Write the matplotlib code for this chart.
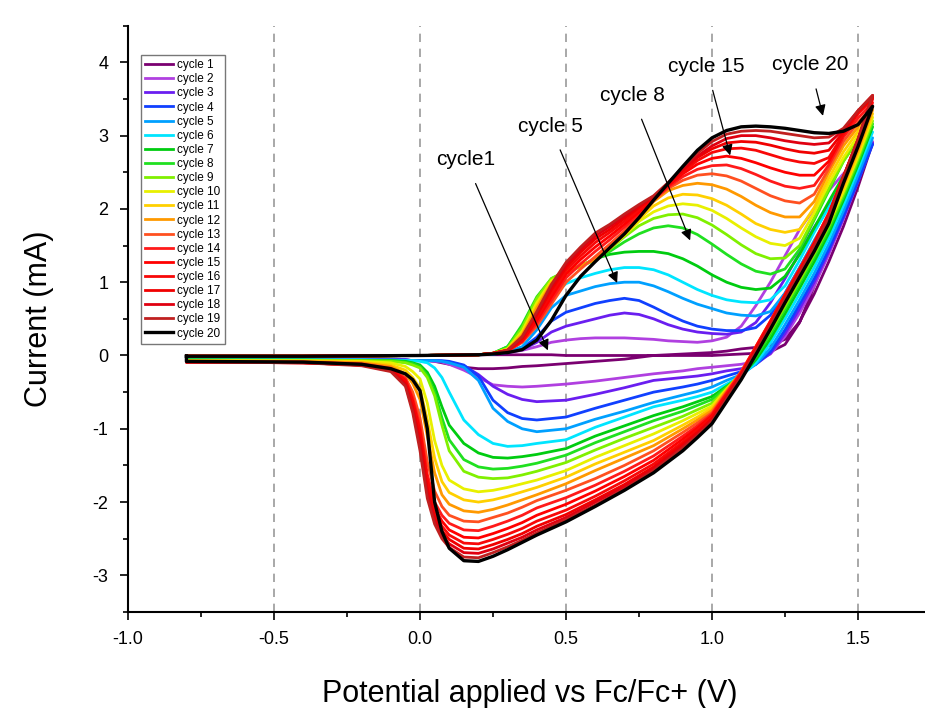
import matplotlib
matplotlib.use("Agg")
import matplotlib.pyplot as plt
from matplotlib.ticker import MultipleLocator

plt.rcParams['font.family'] = ['Liberation Sans', 'DejaVu Sans']

# potential grids (V vs Fc/Fc+), anodic sweep then cathodic sweep
fwd_v = [-0.8, -0.4, 0.0, 0.2, 0.25, 0.3, 0.35, 0.4, 0.45, 0.5, 0.55, 0.6, 0.65, 0.7, 0.75,
         0.8, 0.85, 0.9, 0.95, 1.0, 1.05, 1.1, 1.15, 1.2, 1.25, 1.3, 1.35, 1.4, 1.45, 1.5, 1.55]
rev_v = [1.55, 1.5, 1.45, 1.4, 1.35, 1.3, 1.25, 1.2, 1.15, 1.1, 1.05, 1.0, 0.95, 0.9, 0.8, 0.7,
         0.6, 0.5, 0.4, 0.35, 0.3, 0.25, 0.2, 0.15, 0.1, 0.075, 0.05, 0.025, 0.0, -0.025, -0.05,
         -0.1, -0.2, -0.4, -0.8]

# current (mA), one row per cycle
fwd_i = [
    [-0.01, -0.01, 0.0, 0.01, 0.01, 0.01, 0.01, 0.01, 0.01, 0.0, 0.0, 0.0, 0.0, 0.0, 0.0, 0.0, 0.0, 0.0, 0.0, 0.0, 0.01, 0.02, 0.03, 0.05, 0.15, 0.45, 0.95, 1.45, 1.95, 2.42, 2.9],
    [-0.01, -0.01, 0.0, 0.01, 0.02, 0.04, 0.07, 0.12, 0.18, 0.21, 0.23, 0.24, 0.24, 0.24, 0.23, 0.22, 0.2, 0.19, 0.18, 0.2, 0.25, 0.4, 0.68, 1.0, 1.36, 1.72, 2.0, 2.25, 2.48, 2.7, 2.92],
    [-0.01, -0.01, 0.0, 0.01, 0.02, 0.04, 0.08, 0.18, 0.32, 0.4, 0.45, 0.5, 0.55, 0.58, 0.56, 0.5, 0.42, 0.36, 0.32, 0.3, 0.29, 0.32, 0.45, 0.72, 1.05, 1.4, 1.75, 2.05, 2.35, 2.62, 2.9],
    [-0.01, -0.01, 0.0, 0.01, 0.02, 0.04, 0.1, 0.25, 0.47, 0.59, 0.65, 0.71, 0.75, 0.78, 0.75, 0.66, 0.56, 0.47, 0.4, 0.36, 0.34, 0.34, 0.38, 0.55, 0.85, 1.2, 1.55, 1.9, 2.25, 2.57, 2.88],
    [-0.01, -0.01, 0.0, 0.01, 0.02, 0.05, 0.12, 0.35, 0.65, 0.82, 0.88, 0.94, 0.98, 1.0, 1.0, 0.95, 0.87, 0.78, 0.7, 0.64, 0.58, 0.55, 0.54, 0.6, 0.85, 1.2, 1.57, 1.92, 2.27, 2.62, 2.97],
    [-0.01, -0.01, 0.0, 0.01, 0.02, 0.06, 0.18, 0.45, 0.8, 0.98, 1.06, 1.12, 1.17, 1.2, 1.2, 1.17, 1.1, 1.0, 0.9, 0.82, 0.76, 0.73, 0.72, 0.76, 0.95, 1.3, 1.68, 2.02, 2.37, 2.72, 3.05],
    [-0.01, -0.01, 0.0, 0.01, 0.03, 0.12, 0.4, 0.75, 1.0, 1.12, 1.22, 1.32, 1.38, 1.41, 1.42, 1.42, 1.39, 1.32, 1.22, 1.1, 1.0, 0.93, 0.9, 0.92, 1.08, 1.38, 1.74, 2.1, 2.45, 2.8, 3.12],
    [-0.01, -0.01, 0.0, 0.01, 0.03, 0.12, 0.42, 0.8, 1.05, 1.15, 1.22, 1.3, 1.42, 1.55, 1.66, 1.74, 1.77, 1.74, 1.65, 1.52, 1.38, 1.25, 1.15, 1.11, 1.18, 1.45, 1.85, 2.25, 2.65, 2.95, 3.16],
    [-0.01, -0.01, 0.0, 0.01, 0.03, 0.1, 0.38, 0.78, 1.05, 1.15, 1.23, 1.31, 1.45, 1.62, 1.77, 1.87, 1.92, 1.93, 1.88, 1.78, 1.65, 1.51, 1.39, 1.32, 1.33, 1.5, 1.88, 2.28, 2.65, 2.95, 3.2],
    [-0.01, -0.01, 0.0, 0.01, 0.03, 0.09, 0.33, 0.72, 1.02, 1.14, 1.22, 1.31, 1.46, 1.64, 1.83, 1.96, 2.04, 2.07, 2.05, 1.98, 1.87, 1.74, 1.62, 1.53, 1.5, 1.6, 1.95, 2.35, 2.7, 3.0, 3.25],
    [-0.01, -0.01, 0.0, 0.01, 0.03, 0.08, 0.3, 0.68, 1.0, 1.13, 1.22, 1.31, 1.47, 1.65, 1.86, 2.04, 2.15, 2.2, 2.19, 2.14, 2.05, 1.93, 1.8, 1.72, 1.68, 1.72, 2.02, 2.42, 2.78, 3.06, 3.3],
    [-0.01, -0.01, 0.0, 0.01, 0.03, 0.08, 0.28, 0.65, 0.98, 1.12, 1.22, 1.31, 1.47, 1.65, 1.88, 2.1, 2.25, 2.32, 2.35, 2.33, 2.27, 2.17, 2.05, 1.95, 1.89, 1.89, 2.1, 2.5, 2.86, 3.12, 3.35],
    [-0.01, -0.01, 0.0, 0.01, 0.03, 0.06, 0.18, 0.4, 0.7, 1.0, 1.18, 1.35, 1.52, 1.7, 1.9, 2.12, 2.28, 2.39, 2.46, 2.48, 2.45, 2.38, 2.28, 2.18, 2.11, 2.08, 2.2, 2.55, 2.92, 3.18, 3.4],
    [-0.01, -0.01, 0.0, 0.01, 0.03, 0.06, 0.19, 0.44, 0.75, 1.06, 1.25, 1.42, 1.58, 1.75, 1.93, 2.13, 2.3, 2.44, 2.54, 2.59, 2.6, 2.55, 2.47, 2.38, 2.31, 2.28, 2.32, 2.6, 2.98, 3.24, 3.45],
    [-0.01, -0.01, 0.0, 0.01, 0.03, 0.07, 0.2, 0.48, 0.8, 1.11, 1.31, 1.48, 1.63, 1.79, 1.96, 2.14, 2.32, 2.48, 2.61, 2.69, 2.72, 2.69, 2.63, 2.56, 2.5, 2.46, 2.46, 2.65, 3.02, 3.3, 3.5],
    [-0.01, -0.01, 0.0, 0.01, 0.03, 0.07, 0.22, 0.52, 0.85, 1.16, 1.36, 1.54, 1.68, 1.83, 1.99, 2.15, 2.33, 2.5, 2.66, 2.77, 2.82, 2.83, 2.8, 2.74, 2.68, 2.64, 2.62, 2.7, 3.02, 3.32, 3.52],
    [-0.01, -0.01, 0.0, 0.01, 0.03, 0.07, 0.23, 0.55, 0.9, 1.2, 1.41, 1.59, 1.72, 1.87, 2.02, 2.16, 2.34, 2.53, 2.7, 2.82, 2.9, 2.92, 2.91, 2.87, 2.82, 2.78, 2.76, 2.8, 3.05, 3.33, 3.53],
    [-0.01, -0.01, 0.0, 0.01, 0.03, 0.07, 0.25, 0.58, 0.94, 1.24, 1.45, 1.63, 1.76, 1.9, 2.04, 2.17, 2.35, 2.55, 2.72, 2.86, 2.96, 3.0, 3.0, 2.97, 2.93, 2.9, 2.88, 2.9, 3.08, 3.34, 3.55],
    [-0.01, -0.01, 0.0, 0.01, 0.03, 0.07, 0.26, 0.6, 0.97, 1.27, 1.48, 1.67, 1.79, 1.93, 2.06, 2.18, 2.36, 2.57, 2.76, 2.92, 3.02, 3.06, 3.07, 3.06, 3.03, 3.0, 2.97, 2.98, 3.1, 3.34, 3.55],
    [-0.01, -0.01, 0.0, 0.01, 0.02, 0.04, 0.08, 0.21, 0.48, 0.82, 1.08, 1.28, 1.47, 1.66, 1.88, 2.12, 2.35, 2.58, 2.8, 2.97, 3.07, 3.12, 3.13, 3.12, 3.1, 3.07, 3.04, 3.03, 3.06, 3.15, 3.4],
]

rev_i = [
    [2.9, 2.3, 1.76, 1.28, 0.84, 0.46, 0.22, 0.14, 0.11, 0.09, 0.06, 0.04, 0.03, 0.02, 0.0, -0.05, -0.08, -0.11, -0.14, -0.15, -0.17, -0.18, -0.18, -0.16, -0.12, -0.1, -0.08, -0.07, -0.07, -0.07, -0.06, -0.06, -0.06, -0.06, -0.06],
    [2.92, 2.38, 1.86, 1.38, 0.95, 0.58, 0.26, 0.02, -0.08, -0.12, -0.14, -0.16, -0.18, -0.21, -0.25, -0.3, -0.35, -0.39, -0.42, -0.43, -0.42, -0.4, -0.3, -0.2, -0.12, -0.09, -0.08, -0.07, -0.07, -0.07, -0.06, -0.06, -0.06, -0.06, -0.06],
    [2.9, 2.38, 1.88, 1.42, 1.0, 0.64, 0.3, 0.03, -0.12, -0.18, -0.21, -0.25, -0.28, -0.3, -0.34, -0.44, -0.53, -0.61, -0.63, -0.6, -0.53, -0.42, -0.26, -0.14, -0.09, -0.08, -0.07, -0.07, -0.07, -0.07, -0.06, -0.06, -0.06, -0.06, -0.06],
    [2.88, 2.38, 1.9, 1.45, 1.05, 0.7, 0.35, 0.05, -0.12, -0.22, -0.28, -0.34, -0.39, -0.43, -0.5, -0.61, -0.72, -0.84, -0.88, -0.86, -0.78, -0.61, -0.28, -0.13, -0.08, -0.07, -0.07, -0.07, -0.07, -0.07, -0.06, -0.06, -0.06, -0.06, -0.06],
    [2.97, 2.46, 1.97, 1.52, 1.12, 0.76, 0.42, 0.1, -0.12, -0.26, -0.34, -0.43, -0.49, -0.54, -0.64, -0.76, -0.87, -1.0, -1.04, -1.0, -0.9, -0.72, -0.34, -0.16, -0.1, -0.08, -0.07, -0.07, -0.07, -0.07, -0.07, -0.06, -0.06, -0.06, -0.06],
    [3.05, 2.54, 2.05, 1.6, 1.2, 0.84, 0.5, 0.17, -0.1, -0.28, -0.39, -0.5, -0.56, -0.61, -0.7, -0.84, -0.98, -1.15, -1.2, -1.23, -1.24, -1.2, -1.08, -0.88, -0.5, -0.3, -0.17, -0.1, -0.08, -0.07, -0.07, -0.07, -0.06, -0.06, -0.06],
    [3.12, 2.6, 2.12, 1.67, 1.28, 0.92, 0.57, 0.23, -0.06, -0.28, -0.42, -0.56, -0.63, -0.7, -0.82, -0.96, -1.1, -1.27, -1.35, -1.38, -1.4, -1.39, -1.33, -1.2, -0.95, -0.7, -0.42, -0.23, -0.13, -0.1, -0.08, -0.07, -0.07, -0.06, -0.06],
    [3.16, 2.64, 2.16, 1.72, 1.34, 0.98, 0.63, 0.29, -0.02, -0.27, -0.43, -0.6, -0.68, -0.76, -0.89, -1.04, -1.19, -1.36, -1.47, -1.51, -1.54, -1.55, -1.52, -1.42, -1.15, -0.85, -0.5, -0.27, -0.15, -0.11, -0.09, -0.07, -0.07, -0.07, -0.06],
    [3.2, 2.68, 2.2, 1.76, 1.38, 1.02, 0.67, 0.33, 0.02, -0.25, -0.45, -0.65, -0.74, -0.83, -0.98, -1.13, -1.29, -1.46, -1.58, -1.63, -1.67, -1.68, -1.66, -1.58, -1.3, -0.95, -0.55, -0.3, -0.17, -0.13, -0.1, -0.08, -0.07, -0.07, -0.07],
    [3.25, 2.72, 2.24, 1.8, 1.42, 1.06, 0.71, 0.37, 0.05, -0.24, -0.46, -0.69, -0.79, -0.89, -1.07, -1.23, -1.39, -1.57, -1.7, -1.75, -1.8, -1.84, -1.86, -1.82, -1.7, -1.5, -1.16, -0.65, -0.32, -0.22, -0.15, -0.1, -0.08, -0.07, -0.07],
    [3.3, 2.76, 2.28, 1.84, 1.46, 1.1, 0.75, 0.4, 0.07, -0.23, -0.47, -0.72, -0.84, -0.95, -1.16, -1.32, -1.48, -1.66, -1.8, -1.86, -1.92, -1.97, -2.0, -1.97, -1.87, -1.72, -1.4, -0.88, -0.45, -0.3, -0.2, -0.13, -0.09, -0.08, -0.07],
    [3.35, 2.8, 2.32, 1.88, 1.5, 1.14, 0.79, 0.43, 0.09, -0.22, -0.48, -0.75, -0.88, -1.0, -1.23, -1.4, -1.57, -1.75, -1.9, -1.97, -2.04, -2.1, -2.14, -2.12, -2.03, -1.9, -1.6, -1.1, -0.6, -0.38, -0.25, -0.15, -0.1, -0.08, -0.08],
    [3.4, 2.86, 2.4, 1.93, 1.54, 1.18, 0.83, 0.47, 0.12, -0.22, -0.5, -0.78, -0.92, -1.05, -1.3, -1.5, -1.68, -1.84, -1.98, -2.07, -2.15, -2.21, -2.27, -2.26, -2.18, -2.06, -1.85, -1.45, -0.85, -0.5, -0.3, -0.17, -0.11, -0.09, -0.08],
    [3.45, 2.9, 2.42, 1.94, 1.54, 1.18, 0.83, 0.47, 0.12, -0.23, -0.51, -0.8, -0.96, -1.1, -1.37, -1.58, -1.77, -1.94, -2.08, -2.18, -2.26, -2.33, -2.39, -2.38, -2.29, -2.18, -2.0, -1.62, -0.97, -0.58, -0.32, -0.18, -0.12, -0.09, -0.09],
    [3.5, 2.93, 2.44, 1.94, 1.54, 1.18, 0.83, 0.46, 0.11, -0.24, -0.53, -0.82, -0.99, -1.14, -1.43, -1.65, -1.85, -2.03, -2.18, -2.28, -2.36, -2.43, -2.49, -2.48, -2.38, -2.26, -2.08, -1.7, -1.03, -0.62, -0.34, -0.19, -0.12, -0.09, -0.09],
    [3.52, 2.94, 2.44, 1.93, 1.53, 1.17, 0.82, 0.45, 0.1, -0.25, -0.54, -0.84, -1.02, -1.18, -1.48, -1.71, -1.92, -2.11, -2.26, -2.36, -2.44, -2.51, -2.57, -2.56, -2.45, -2.33, -2.14, -1.76, -1.1, -0.66, -0.36, -0.2, -0.13, -0.1, -0.09],
    [3.53, 2.95, 2.44, 1.92, 1.52, 1.15, 0.8, 0.44, 0.08, -0.26, -0.56, -0.86, -1.05, -1.21, -1.52, -1.76, -1.97, -2.17, -2.33, -2.43, -2.51, -2.58, -2.64, -2.63, -2.51, -2.39, -2.2, -1.82, -1.15, -0.7, -0.38, -0.2, -0.13, -0.1, -0.09],
    [3.55, 2.95, 2.43, 1.9, 1.5, 1.14, 0.78, 0.42, 0.07, -0.27, -0.57, -0.88, -1.07, -1.24, -1.55, -1.79, -2.0, -2.21, -2.38, -2.48, -2.56, -2.64, -2.7, -2.69, -2.57, -2.45, -2.25, -1.88, -1.22, -0.74, -0.4, -0.21, -0.13, -0.1, -0.09],
    [3.55, 2.95, 2.42, 1.88, 1.48, 1.12, 0.77, 0.4, 0.05, -0.29, -0.59, -0.9, -1.09, -1.26, -1.57, -1.82, -2.04, -2.24, -2.42, -2.52, -2.61, -2.69, -2.76, -2.75, -2.62, -2.5, -2.3, -1.95, -1.3, -0.78, -0.42, -0.22, -0.14, -0.1, -0.09],
    [3.4, 2.85, 2.35, 1.8, 1.42, 1.07, 0.72, 0.36, 0.01, -0.33, -0.63, -0.93, -1.12, -1.3, -1.6, -1.84, -2.06, -2.27, -2.45, -2.55, -2.65, -2.74, -2.81, -2.8, -2.63, -2.4, -2.0, -1.0, -0.48, -0.33, -0.25, -0.18, -0.12, -0.09, -0.08],
]

labels = ['cycle %d' % n for n in range(1, 21)]
colors = ['#7a0070', '#b040e0', '#6a1ef0', '#1040ff', '#00a0ff', '#00e5ff', '#00cc10', '#20e020',
          '#80f000', '#e8f000', '#ffd000', '#ff9900', '#ff5020', '#ff1a1a', '#ff0000', '#f80808',
          '#f00000', '#e00010', '#c02020', '#000000']

# arrow notes: text, text position, arrow tip (data units)
notes = [
    ('cycle1', (0.155, 2.67), (0.438, 0.07)),
    ('cycle 5', (0.445, 3.13), (0.675, 0.99)),
    ('cycle 8', (0.726, 3.55), (0.925, 1.57)),
    ('cycle 15', (0.98, 3.95), (1.062, 2.73)),
    ('cycle 20', (1.335, 3.97), (1.38, 3.27)),
]

fig = plt.figure(figsize=(9.25, 7.08), dpi=100)
ax = fig.add_axes([0.1384, 0.1356, 0.8681, 0.8281])

for x in [-0.5, 0.0, 0.5, 1.0, 1.5]:
    ax.axvline(x, color='#999999', lw=1.2, ls=(0, (5, 4)), zorder=0)

for k in range(20):
    v = fwd_v + rev_v + [fwd_v[0]]
    i = fwd_i[k] + rev_i[k] + [fwd_i[k][0]]
    lw = 2.4 if k == 19 else 2.0
    ax.plot(v, i, color=colors[k], lw=lw, label=labels[k], solid_joinstyle='round')

for txt, xy_text, xy_tip in notes:
    ax.annotate(txt, xy=xy_tip, xytext=xy_text, ha='center', va='center', fontsize=15,
                arrowprops=dict(arrowstyle='-|>', color='black', lw=0.9, mutation_scale=16,
                                shrinkA=9, shrinkB=0))

ax.set_xlim(-1.0, 1.75)
ax.set_ylim(-3.5, 4.5)
ax.xaxis.set_minor_locator(MultipleLocator(0.25))
ax.yaxis.set_minor_locator(MultipleLocator(0.5))
ax.set_xticks([-1.0, -0.5, 0.0, 0.5, 1.0, 1.5])
ax.set_xticklabels(['-1.0', '-0.5', '0.0', '0.5', '1.0', '1.5'])
ax.set_yticks([-3, -2, -1, 0, 1, 2, 3, 4])
ax.set_yticklabels(['-3', '-2', '-1', '0', '1', '2', '3', '4'])
ax.tick_params(which='major', direction='out', length=6, width=1.2, labelsize=13, pad=8)
ax.tick_params(which='minor', direction='out', length=3.5, width=1.2)

for side in ['top', 'right']:
    ax.spines[side].set_visible(False)
for side in ['left', 'bottom']:
    ax.spines[side].set_linewidth(1.5)

ax.set_xlabel('Potential applied vs Fc/Fc+ (V)', fontsize=22, labelpad=22)
ax.set_ylabel('Current (mA)', fontsize=22, labelpad=28)

leg = ax.legend(loc='upper left', bbox_to_anchor=(0.016, 0.95), fontsize=8.5, frameon=True,
                fancybox=False, edgecolor='#555555', labelspacing=0.18, handlelength=2.4,
                handletextpad=0.35, borderpad=0.35, borderaxespad=0.0)
leg.get_frame().set_linewidth(1.0)

plt.savefig('out.png', dpi=100)
